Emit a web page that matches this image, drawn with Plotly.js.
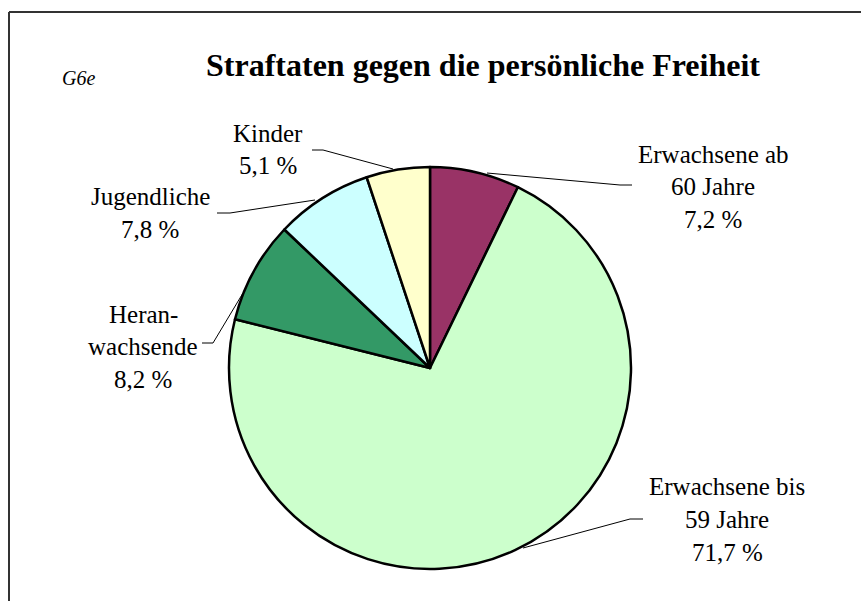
<!DOCTYPE html>
<html>
<head>
<meta charset="utf-8">
<script src="https://cdn.plot.ly/plotly-3.0.1.min.js"></script>
<style>html,body{margin:0;padding:0;background:#fff;}#chart{width:861px;height:601px;}</style>
</head>
<body>
<div id="chart"></div>
<script>
// ---- data ----
var categories = ['Erwachsene ab 60 Jahre', 'Erwachsene bis 59 Jahre', 'Heranwachsende', 'Jugendliche', 'Kinder'];
var values = [7.2, 71.7, 8.2, 7.8, 5.1];
var labelLines = [['Erwachsene ab', '60 Jahre'], ['Erwachsene bis', '59 Jahre'], ['Heran-', 'wachsende'], ['Jugendliche'], ['Kinder']];
var colors = ['#993366', '#CCFFCC', '#339966', '#CCFFFF', '#FFFFCC'];
var titleText = 'Straftaten gegen die persönliche Freiheit';
var codeText = 'G6e';

// ---- layout helpers (pixel -> paper) ----
var W = 861, H = 601;
function px(x) { return x / W; }
function py(y) { return 1 - y / H; }

var cx = 430, cy = 368, R = 201;

// label placement (center x, first line center y) and leader lines [pie point, elbow, end]
var labelPos = [
  {x: 713, y: 154},
  {x: 727, y: 487},
  {x: 143, y: 314},
  {x: 150, y: 197},
  {x: 268, y: 133}
];
var leaders = [
  [[487, 173], [620, 185], [632, 185]],
  [[523, 548], [630, 519], [643, 519]],
  [[243, 293], [213, 343], [202, 343]],
  [[315, 200], [230, 213], [217, 213]],
  [[393, 169], [323, 150], [312, 150]]
];
var lineGap = 32.5;

var annotations = [];
var shapes = [];
var font = '"Liberation Serif", "Times New Roman", serif';

categories.forEach(function (c, i) {
  var lines = labelLines[i].concat([values[i].toFixed(1).replace('.', ',') + ' %']);
  lines.forEach(function (t, k) {
    annotations.push({
      text: t, xref: 'paper', yref: 'paper',
      x: px(labelPos[i].x), y: py(labelPos[i].y + k * lineGap),
      xanchor: 'center', yanchor: 'middle', showarrow: false,
      font: {family: font, size: 25, color: '#000'}
    });
  });
  var p = leaders[i];
  shapes.push({
    type: 'path', xref: 'paper', yref: 'paper',
    path: 'M ' + px(p[0][0]) + ' ' + py(p[0][1]) + ' L ' + px(p[1][0]) + ' ' + py(p[1][1]) + ' L ' + px(p[2][0]) + ' ' + py(p[2][1]),
    line: {color: '#000', width: 1}
  });
});

annotations.push({
  text: '<b>' + titleText + '</b>', xref: 'paper', yref: 'paper',
  x: px(483), y: py(65), xanchor: 'center', yanchor: 'middle', showarrow: false,
  font: {family: font, size: 32, color: '#000'}
});
annotations.push({
  text: '<i>' + codeText + '</i>', xref: 'paper', yref: 'paper',
  x: px(78), y: py(78), xanchor: 'center', yanchor: 'middle', showarrow: false,
  font: {family: font, size: 20, color: '#000'}
});

// frame (top and left edges visible)
shapes.push({type: 'line', xref: 'paper', yref: 'paper', x0: px(9), y0: py(12), x1: px(861), y1: py(12), line: {color: '#333', width: 2}});
shapes.push({type: 'line', xref: 'paper', yref: 'paper', x0: px(9), y0: py(12), x1: px(9), y1: py(601), line: {color: '#333', width: 2}});

var trace = {
  type: 'pie',
  labels: categories,
  values: values,
  sort: false,
  direction: 'clockwise',
  rotation: 0,
  textinfo: 'none',
  hoverinfo: 'label+percent',
  marker: {colors: colors, line: {color: '#000', width: 2.5}},
  domain: {x: [px(cx - R), px(cx + R)], y: [py(cy + R), py(cy - R)]},
  showlegend: false
};

var layout = {
  width: W, height: H,
  margin: {l: 0, r: 0, t: 0, b: 0},
  paper_bgcolor: '#fff',
  font: {family: font},
  showlegend: false,
  annotations: annotations,
  shapes: shapes
};

Plotly.newPlot('chart', [trace], layout, {displayModeBar: false, staticPlot: true});
</script>
</body>
</html>
